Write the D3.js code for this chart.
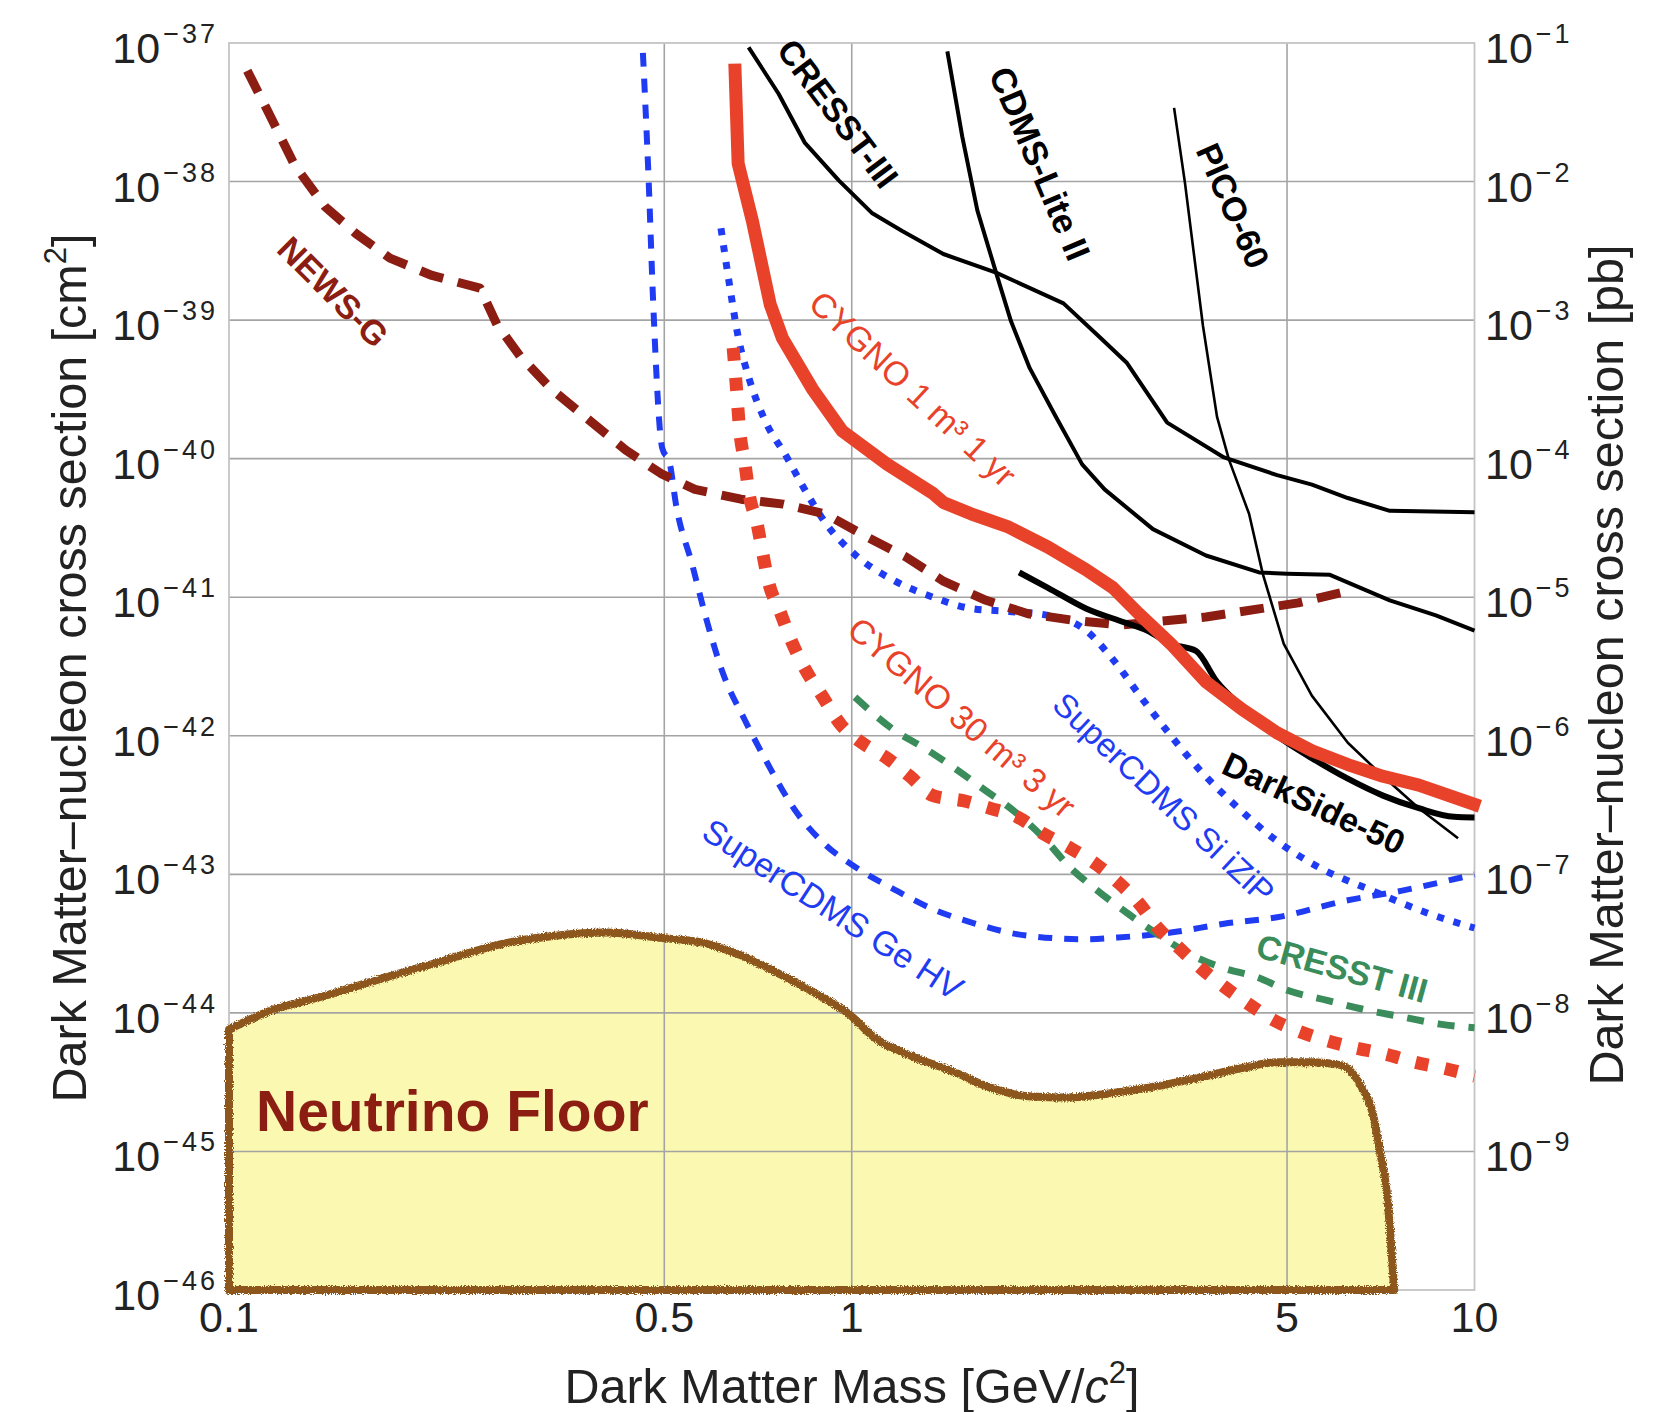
<!DOCTYPE html>
<html>
<head>
<meta charset="utf-8">
<script src="https://cdn.jsdelivr.net/npm/d3@7"></script>
<style>
  body { margin: 0; background: #fff; }
  svg { display: block; }
</style>
</head>
<body>
<svg id="chart" width="1655" height="1412"></svg>
<script>
// ---- Exclusion limits: WIMP mass [GeV/c^2] vs spin-independent cross section [cm^2] ----

const newsgMass  = [0.107, 0.1155, 0.1276, 0.1426, 0.160, 0.1813, 0.2118, 0.253, 0.2693, 0.2934, 0.3289, 0.3785, 0.434, 0.494, 0.560, 0.664, 0.776, 0.906, 1.062, 1.222, 1.406, 1.643, 1.919, 2.275, 2.706, 3.705, 5.21, 6.34];
const newsgSigma = [6.3e-38, 3.2e-38, 1.3e-38, 6.6e-39, 4.2e-39, 2.8e-39, 2.1e-39, 1.7e-39, 9.3e-40, 5.5e-40, 3.2e-40, 1.9e-40, 1.15e-40, 7.8e-41, 6.0e-41, 5.1e-41, 4.7e-41, 4.0e-41, 2.7e-41, 1.95e-41, 1.3e-41, 9.5e-42, 7.6e-42, 6.8e-42, 6.3e-42, 7.2e-42, 9.1e-42, 1.12e-41];

const geHvMass  = [0.462, 0.472, 0.480, 0.496, 0.510, 0.522, 0.554, 0.586, 0.619, 0.674, 0.734, 0.811, 0.909, 1.016, 1.169, 1.351, 1.554, 1.919, 2.377, 2.677, 3.255, 3.96, 4.82, 6.26, 7.62, 10];
const geHvSigma = [8.5e-38, 1.0e-38, 1.3e-39, 1.2e-40, 9.3e-41, 4.7e-41, 1.74e-41, 6.6e-42, 2.95e-42, 1.29e-42, 6.2e-43, 2.9e-43, 1.62e-43, 1.12e-43, 7.8e-44, 5.6e-44, 4.5e-44, 3.6e-44, 3.4e-44, 3.5e-44, 3.8e-44, 4.4e-44, 4.9e-44, 6.5e-44, 7.6e-44, 1.0e-43];

const siIzipMass  = [0.6166, 0.6376, 0.657, 0.684, 0.723, 0.787, 0.835, 0.909, 1.016, 1.169, 1.351, 1.554, 1.788, 2.066, 2.377, 2.627, 2.924, 3.255, 3.61, 4.125, 4.82, 5.63, 6.77, 8.67, 10];
const siIzipSigma = [4.6e-39, 1.7e-39, 7.6e-40, 3.8e-40, 1.95e-40, 1.02e-40, 6.3e-41, 3.4e-41, 2.0e-41, 1.32e-41, 1.0e-41, 8.3e-42, 7.9e-42, 7.4e-42, 5.75e-42, 3.55e-42, 1.86e-42, 1.0e-42, 5.75e-43, 3.16e-43, 1.74e-43, 1.12e-43, 7.8e-44, 5.0e-44, 4.1e-44];

const cygno1Mass  = [0.649, 0.657, 0.6925, 0.74, 0.774, 0.864, 0.966, 1.14, 1.351, 1.406, 1.554, 1.788, 2.066, 2.377, 2.627, 2.891, 3.255, 3.705, 4.235, 4.82, 5.483, 6.26, 7.13, 8.14, 10.2];
const cygno1Sigma = [7.1e-38, 1.35e-38, 5.2e-39, 1.29e-39, 7.4e-40, 3.2e-40, 1.58e-40, 9.1e-41, 5.6e-41, 4.8e-41, 4.0e-41, 3.2e-41, 2.3e-41, 1.58e-41, 1.17e-41, 7.6e-42, 4.6e-42, 2.45e-42, 1.55e-42, 1.05e-42, 7.8e-43, 6.2e-43, 5.1e-43, 4.4e-43, 3.1e-43];

const cygno30Mass  = [0.645, 0.652, 0.661, 0.674, 0.684, 0.7046, 0.7178, 0.734, 0.767, 0.799, 0.8445, 0.8958, 0.961, 1.031, 1.139, 1.24, 1.351, 1.509, 1.667, 1.843, 2.036, 2.242, 2.476, 2.697, 2.891, 3.103, 3.366, 3.638, 3.96, 4.345, 4.75, 5.21, 5.80, 6.43, 7.24, 8.03, 8.90, 10];
const cygno30Sigma = [6.3e-40, 3.5e-40, 1.58e-40, 9.1e-41, 5.6e-41, 3.4e-41, 2.2e-41, 1.32e-41, 7.9e-42, 4.9e-42, 2.95e-42, 1.95e-42, 1.2e-42, 9.1e-43, 6.9e-43, 5.1e-43, 3.7e-43, 3.4e-43, 3.0e-43, 2.6e-43, 1.95e-43, 1.55e-43, 1.17e-43, 8.5e-44, 6.2e-44, 4.1e-44, 2.9e-44, 2.1e-44, 1.55e-44, 1.15e-44, 8.9e-45, 7.4e-45, 6.3e-45, 5.6e-45, 5.0e-45, 4.4e-45, 4.0e-45, 3.5e-45];

const cresstGreenMass  = [1.012, 1.169, 1.311, 1.47, 1.643, 1.815, 2.036, 2.242, 2.44, 2.777, 3.126, 3.52, 3.96, 4.46, 5.02, 5.80, 6.70, 7.71, 8.80, 10];
const cresstGreenSigma = [1.9e-42, 1.1e-42, 8.1e-43, 5.75e-43, 4.0e-43, 2.9e-43, 1.82e-43, 1.12e-43, 8.1e-44, 5.2e-44, 3.6e-44, 2.6e-44, 2.1e-44, 1.82e-44, 1.45e-44, 1.23e-44, 1.05e-44, 9.3e-45, 8.3e-45, 7.8e-45];

const cresstBlackMass  = [0.683, 0.763, 0.841, 0.953, 1.079, 1.205, 1.403, 1.705, 2.188, 2.512, 2.767, 3.21, 3.96, 4.82, 5.483, 6.26, 7.31, 10];
const cresstBlackSigma = [9.3e-38, 4.3e-38, 1.9e-38, 1.02e-38, 5.9e-39, 4.4e-39, 3.0e-39, 2.2e-39, 1.32e-39, 7.4e-40, 4.9e-40, 1.82e-40, 1.02e-40, 7.6e-41, 6.5e-41, 5.2e-41, 4.2e-41, 4.1e-41];

const cdmsLiteMass  = [1.424, 1.505, 1.591, 1.705, 1.802, 1.931, 2.128, 2.344, 2.547, 3.045, 3.705, 4.51, 5.0, 5.86, 7.31, 8.67, 10];
const cdmsLiteSigma = [8.7e-38, 2.1e-38, 6.2e-39, 2.2e-39, 9.8e-40, 4.5e-40, 2.0e-40, 9.1e-41, 6.0e-41, 3.1e-41, 2.0e-41, 1.51e-41, 1.48e-41, 1.45e-41, 9.5e-42, 7.4e-42, 5.75e-42];

const picoMass  = [3.293, 3.428, 3.664, 3.86, 4.035, 4.345, 4.57, 4.94, 5.48, 6.26, 7.13, 8.14, 9.41];
const picoSigma = [3.4e-38, 9.8e-39, 9.1e-40, 2.0e-40, 9.8e-41, 4.0e-41, 1.48e-41, 4.6e-42, 1.95e-42, 8.9e-43, 5.1e-43, 3.0e-43, 1.82e-43];

const darksideMass  = [1.857, 2.066, 2.377, 2.736, 2.98, 3.255, 3.57, 3.86, 4.235, 4.82, 5.48, 6.26, 7.13, 8.14, 9.27, 10];
const darksideSigma = [1.51e-41, 1.17e-41, 8.3e-42, 6.6e-42, 5.75e-42, 4.6e-42, 4.1e-42, 2.45e-42, 1.62e-42, 1.0e-42, 6.9e-43, 4.9e-43, 3.7e-43, 3.0e-43, 2.6e-43, 2.57e-43];

// Upper boundary of the neutrino floor region (closed down to 1e-46 and back to 0.1 GeV)
const floorMass  = [0.1, 0.1155, 0.1426, 0.1767, 0.2183, 0.2704, 0.3339, 0.4046, 0.4868, 0.577, 0.664, 0.767, 0.883, 0.99, 1.089, 1.259, 1.449, 1.667, 1.919, 2.216, 2.551, 3.013, 3.705, 4.235, 4.82, 5.48, 6.10, 6.59, 6.87, 7.05, 7.24, 7.43];
const floorSigma = [7.6e-45, 1.02e-44, 1.33e-44, 1.78e-44, 2.34e-44, 3.1e-44, 3.6e-44, 3.8e-44, 3.5e-44, 3.2e-44, 2.6e-44, 1.9e-44, 1.35e-44, 9.8e-45, 6.6e-45, 4.8e-45, 3.8e-45, 2.9e-45, 2.5e-45, 2.45e-45, 2.6e-45, 2.9e-45, 3.5e-45, 4.0e-45, 4.4e-45, 4.4e-45, 4.2e-45, 2.9e-45, 1.86e-45, 1.0e-45, 4.8e-46, 1.0e-46];

// Axis ticks
const massTicks      = [0.1, 0.5, 1, 5, 10];
const massTickLabels = ["0.1", "0.5", "1", "5", "10"];
const cm2Exponents   = [-37, -38, -39, -40, -41, -42, -43, -44, -45, -46];
const pbExponents    = [-1, -2, -3, -4, -5, -6, -7, -8, -9];

// Curve annotations (text and anchor in data coordinates)
const labelText  = ["NEWS-G", "CRESST-III", "CDMS-Lite II", "PICO-60", "CYGNO 1 m³ 1 yr", "CYGNO 30 m³ 3 yr", "SuperCDMS Si iZiP", "SuperCDMS Ge HV", "DarkSide-50", "CRESST III"];
const labelMass  = [0.147, 0.95, 2.006, 4.095, 1.254, 1.503, 3.17, 0.933, 5.52, 6.13];
const labelSigma = [1.6e-39, 3.1e-38, 1.35e-38, 6.7e-39, 3.2e-40, 1.36e-42, 3.55e-43, 5.6e-44, 3.27e-43, 2.1e-44];

// ---- Drawing ----
const FONT = "'Liberation Sans', Arial, Helvetica, sans-serif";
const RED = "#e8432a", DARKRED = "#8b1d12", BLUE = "#1f3cf2", GREEN = "#3a8d5b";
const BROWN = "#8c561b", FLOORFILL = "#fbf9b1";

const svg = d3.select("#chart").attr("font-family", FONT);
svg.append("rect").attr("width", 1655).attr("height", 1412).attr("fill", "#fff");

const x = d3.scaleLog().domain([0.1, 10]).range([229, 1474.5]);
const y = d3.scaleLog().domain([1e-46, 1e-37]).range([1290, 43]);

const defs = svg.append("defs");
const rough = defs.append("filter").attr("id", "rough")
  .attr("x", "-2%").attr("y", "-2%").attr("width", "104%").attr("height", "104%");
rough.append("feTurbulence").attr("type", "fractalNoise").attr("baseFrequency", 0.9)
  .attr("numOctaves", 2).attr("seed", 3).attr("result", "noise");
rough.append("feDisplacementMap").attr("in", "SourceGraphic").attr("in2", "noise")
  .attr("scale", 5).attr("xChannelSelector", "R").attr("yChannelSelector", "G");

const zip = (ms, ss) => ms.map((m, i) => [m, ss[i]]);

// Neutrino floor fill
const floorTop = d3.line().x(d => x(d[0])).y(d => y(d[1])).curve(d3.curveMonotoneX);
const floorPath = floorTop(zip(floorMass, floorSigma)) + `L${x(0.1)},${y(1e-46)}Z`;
svg.append("path").attr("d", floorPath).attr("fill", FLOORFILL).attr("stroke", "none");

// Grid
const grid = svg.append("g").attr("stroke", "#a4a4a4").attr("stroke-width", 1.6);
cm2Exponents.slice(1, -1).forEach(e => {
  grid.append("line").attr("x1", x(0.1)).attr("x2", x(10))
    .attr("y1", y(Math.pow(10, e))).attr("y2", y(Math.pow(10, e)));
});
[0.5, 1, 5].forEach(m => {
  grid.append("line").attr("x1", x(m)).attr("x2", x(m)).attr("y1", y(1e-37)).attr("y2", y(1e-46));
});
svg.append("rect").attr("x", x(0.1)).attr("y", y(1e-37))
  .attr("width", x(10) - x(0.1)).attr("height", y(1e-46) - y(1e-37))
  .attr("fill", "none").attr("stroke", "#c4c4c4").attr("stroke-width", 1.8);

// Neutrino floor outline (grainy brown)
svg.append("path").attr("d", floorPath).attr("fill", "none").attr("stroke", BROWN)
  .attr("stroke-width", 8).attr("stroke-linejoin", "round").attr("filter", "url(#rough)");

svg.append("text").attr("x", x(0.1105)).attr("y", y(1.41e-45))
  .attr("font-size", 57).attr("font-weight", "bold").attr("fill", DARKRED)
  .text("Neutrino Floor");

// Limit curves
const linear = d3.line().x(d => x(d[0])).y(d => y(d[1]));
const smooth = d3.line().x(d => x(d[0])).y(d => y(d[1])).curve(d3.curveMonotoneX);

function curve(ms, ss, gen, stroke, width, dash) {
  const p = svg.append("path").attr("d", gen(zip(ms, ss)))
    .attr("fill", "none").attr("stroke", stroke).attr("stroke-width", width)
    .attr("stroke-linejoin", "round");
  if (dash) p.attr("stroke-dasharray", dash);
  return p;
}

curve(geHvMass, geHvSigma, smooth, BLUE, 6, "14 12");
curve(siIzipMass, siIzipSigma, smooth, BLUE, 7, "7 10");
curve(newsgMass, newsgSigma, linear, DARKRED, 9, "24 15");
curve(cresstGreenMass, cresstGreenSigma, smooth, GREEN, 7, "17 14");
curve(cygno30Mass, cygno30Sigma, smooth, RED, 13, "13 17");
curve(cresstBlackMass, cresstBlackSigma, linear, "#000", 4);
curve(cdmsLiteMass, cdmsLiteSigma, linear, "#000", 4);
curve(picoMass, picoSigma, linear, "#000", 2.6);
curve(darksideMass, darksideSigma, smooth, "#000", 6);
curve(cygno1Mass, cygno1Sigma, linear, RED, 13);

// Curve labels
const labelStyle = [
  { angle: 45,   color: DARKRED, weight: "bold",   size: 34 },
  { angle: 53,   color: "#000",  weight: "bold",   size: 34 },
  { angle: 67,   color: "#000",  weight: "bold",   size: 35 },
  { angle: 66,   color: "#000",  weight: "bold",   size: 34 },
  { angle: 43,   color: RED,     weight: "normal", size: 34 },
  { angle: 40.6, color: RED,     weight: "normal", size: 34 },
  { angle: 43.3, color: BLUE,    weight: "normal", size: 33 },
  { angle: 33,   color: BLUE,    weight: "normal", size: 34 },
  { angle: 25,   color: "#000",  weight: "bold",   size: 34 },
  { angle: 15.4, color: GREEN,   weight: "bold",   size: 34 }
];
labelText.forEach((t, i) => {
  const s = labelStyle[i];
  svg.append("text")
    .attr("transform", `translate(${x(labelMass[i])},${y(labelSigma[i])}) rotate(${s.angle})`)
    .attr("text-anchor", "middle").attr("dominant-baseline", "central")
    .attr("font-size", s.size).attr("font-weight", s.weight).attr("fill", s.color)
    .text(t);
});

// Axis tick labels (10 with a superscript exponent)
const TICK = "#222";
function powerLabel(px, py, anchor, exponent) {
  const t = svg.append("text").attr("x", px).attr("y", py)
    .attr("text-anchor", anchor).attr("fill", TICK).attr("font-size", 43);
  t.append("tspan").text("10");
  t.append("tspan").attr("dx", 3).attr("dy", -20).attr("font-size", 27)
    .attr("letter-spacing", 3).text("\u2212" + Math.abs(exponent));
}
cm2Exponents.forEach(e => powerLabel(218, y(Math.pow(10, e)) + 20, "end", e));
pbExponents.forEach((e, i) => powerLabel(1485, y(Math.pow(10, cm2Exponents[i])) + 20, "start", e));

massTicks.forEach((m, i) => {
  svg.append("text").attr("x", x(m)).attr("y", 1332).attr("text-anchor", "middle")
    .attr("fill", TICK).attr("font-size", 43).text(massTickLabels[i]);
});

// Axis titles
const xt = svg.append("text").attr("x", 852).attr("y", 1403).attr("text-anchor", "middle")
  .attr("fill", TICK).attr("font-size", 48.5);
xt.append("tspan").text("Dark Matter Mass [GeV/");
xt.append("tspan").attr("font-style", "italic").text("c");
xt.append("tspan").attr("dy", -20).attr("font-size", 31).text("2");
xt.append("tspan").attr("dy", 20).text("]");

function yTitle(cx, cy, unit) {
  const t = svg.append("text").attr("transform", `translate(${cx},${cy}) rotate(-90)`)
    .attr("text-anchor", "middle").attr("fill", TICK).attr("font-size", 48.5);
  t.append("tspan").text("Dark Matter\u2013nucleon cross section [" + unit);
  return t;
}
const yl = yTitle(86, 668, "cm");
yl.append("tspan").attr("dy", -20).attr("font-size", 31).text("2");
yl.append("tspan").attr("dy", 20).text("]");
const yr = yTitle(1623, 665, "pb");
yr.append("tspan").text("]");
</script>
</body>
</html>
